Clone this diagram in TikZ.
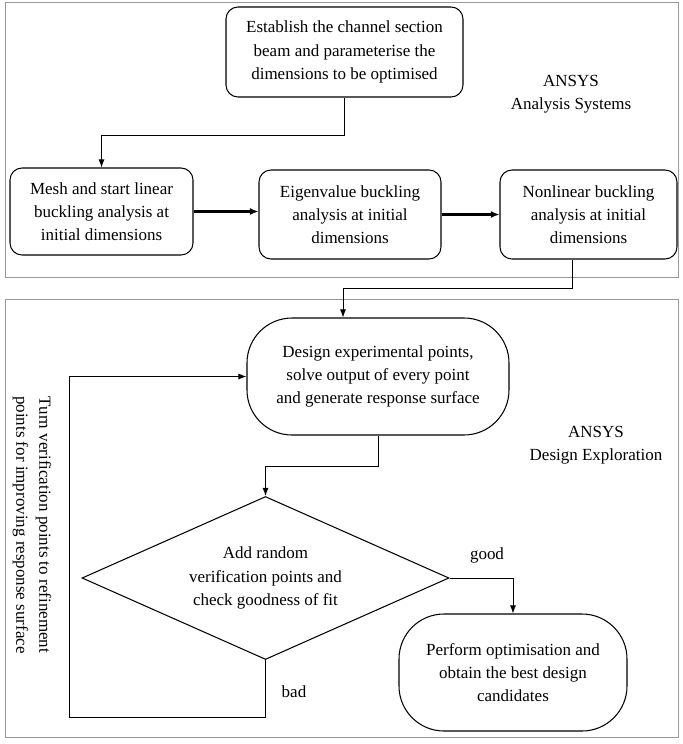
\documentclass[tikz,border=0pt]{standalone}
\usepackage{fontspec}
\setmainfont{Liberation Serif}
\usetikzlibrary{shapes.geometric,arrows.meta,calc}

\begin{document}
\begin{tikzpicture}[x=0.3mm,y=-0.3mm,
		every node/.style={font=\fontsize{14.5}{19.8}\selectfont},
		stagebox/.style={draw,line width=0.9pt,rounded corners=3.6mm,align=center,inner sep=0pt},
		roundbox/.style={draw,line width=0.9pt,rounded corners=13.5mm,align=center,inner sep=0pt},
		checkbox/.style={draw,diamond,line width=0.9pt,aspect=2.25,align=center,inner sep=0pt},
		frame/.style={draw=gray!80,line width=0.8pt},
		link/.style={line width=0.8pt,-{Latex[length=2.4mm,width=1.8mm]}},
		boldlink/.style={line width=2pt,-{Latex[length=2.6mm,width=2.2mm]}}]
			\useasboundingbox (0,0) rectangle (683,744);
			\draw[frame] (5,2) rectangle (678,277);
			\draw[frame] (5,299) rectangle (678,737);
			
			\node[stagebox,minimum width=71.1mm,minimum height=27mm] (estab) at (344.5,52) {Establish the channel section\\beam and parameterise the\\dimensions to be optimised};
			\node[stagebox,minimum width=54.9mm,minimum height=26.1mm] (mesh) at (101.5,211.5) {Mesh and start linear\\buckling analysis at\\initial dimensions};
			\node[stagebox,minimum width=54.6mm,minimum height=26.7mm] (eigen) at (350,214.5) {Eigenvalue buckling\\analysis at initial\\dimensions};
			\node[stagebox,minimum width=53.1mm,minimum height=26.7mm] (nonlin) at (588.5,214.5) {Nonlinear buckling\\analysis at initial\\dimensions};
			\node[align=center] (sysname) at (571,94) {ANSYS\\Analysis Systems};
			
			\node[roundbox,minimum width=78.6mm,minimum height=35.1mm] (design) at (378,376.5) {Design experimental points,\\solve output of every point\\and generate response surface};
			\node[checkbox,minimum width=110.1mm,minimum height=48.9mm] (check) at (265.5,578) {Add random\\verification points and\\check goodness of fit};
			\node[roundbox,minimum width=68.4mm,minimum height=35.1mm] (perform) at (513,672.5) {Perform optimisation and\\obtain the best design\\candidates};
			\node[align=center] (dxname) at (596,445) {ANSYS\\Design Exploration};
			\node[align=center,rotate=-90] (refine) at (32,525) {Turn verification points to refinement\\points for improving response surface};
			\node (good) at (487,555) {good};
			\node (bad) at (294,692) {bad};
			
			\draw[link] (estab.south) -- ++(0,38) -| (mesh.north);
			\draw[boldlink] (mesh.east) -- (mesh.east -| eigen.west);
			\draw[boldlink] (eigen.east) -- (eigen.east -| nonlin.west);
			\draw[link] ($(nonlin.south)+(-16,0)$) -- ++(0,29) -| ($(design.north)+(-35,0)$);
			\draw[link] (design.south) -- ++(0,31) -| (check.north);
			\draw[link] (check.east) -| (perform.north);
			\draw[link] (check.south) -- ++(0,57) -- ++(-196,0) |- (design.west);
		\end{tikzpicture}
\end{document}
